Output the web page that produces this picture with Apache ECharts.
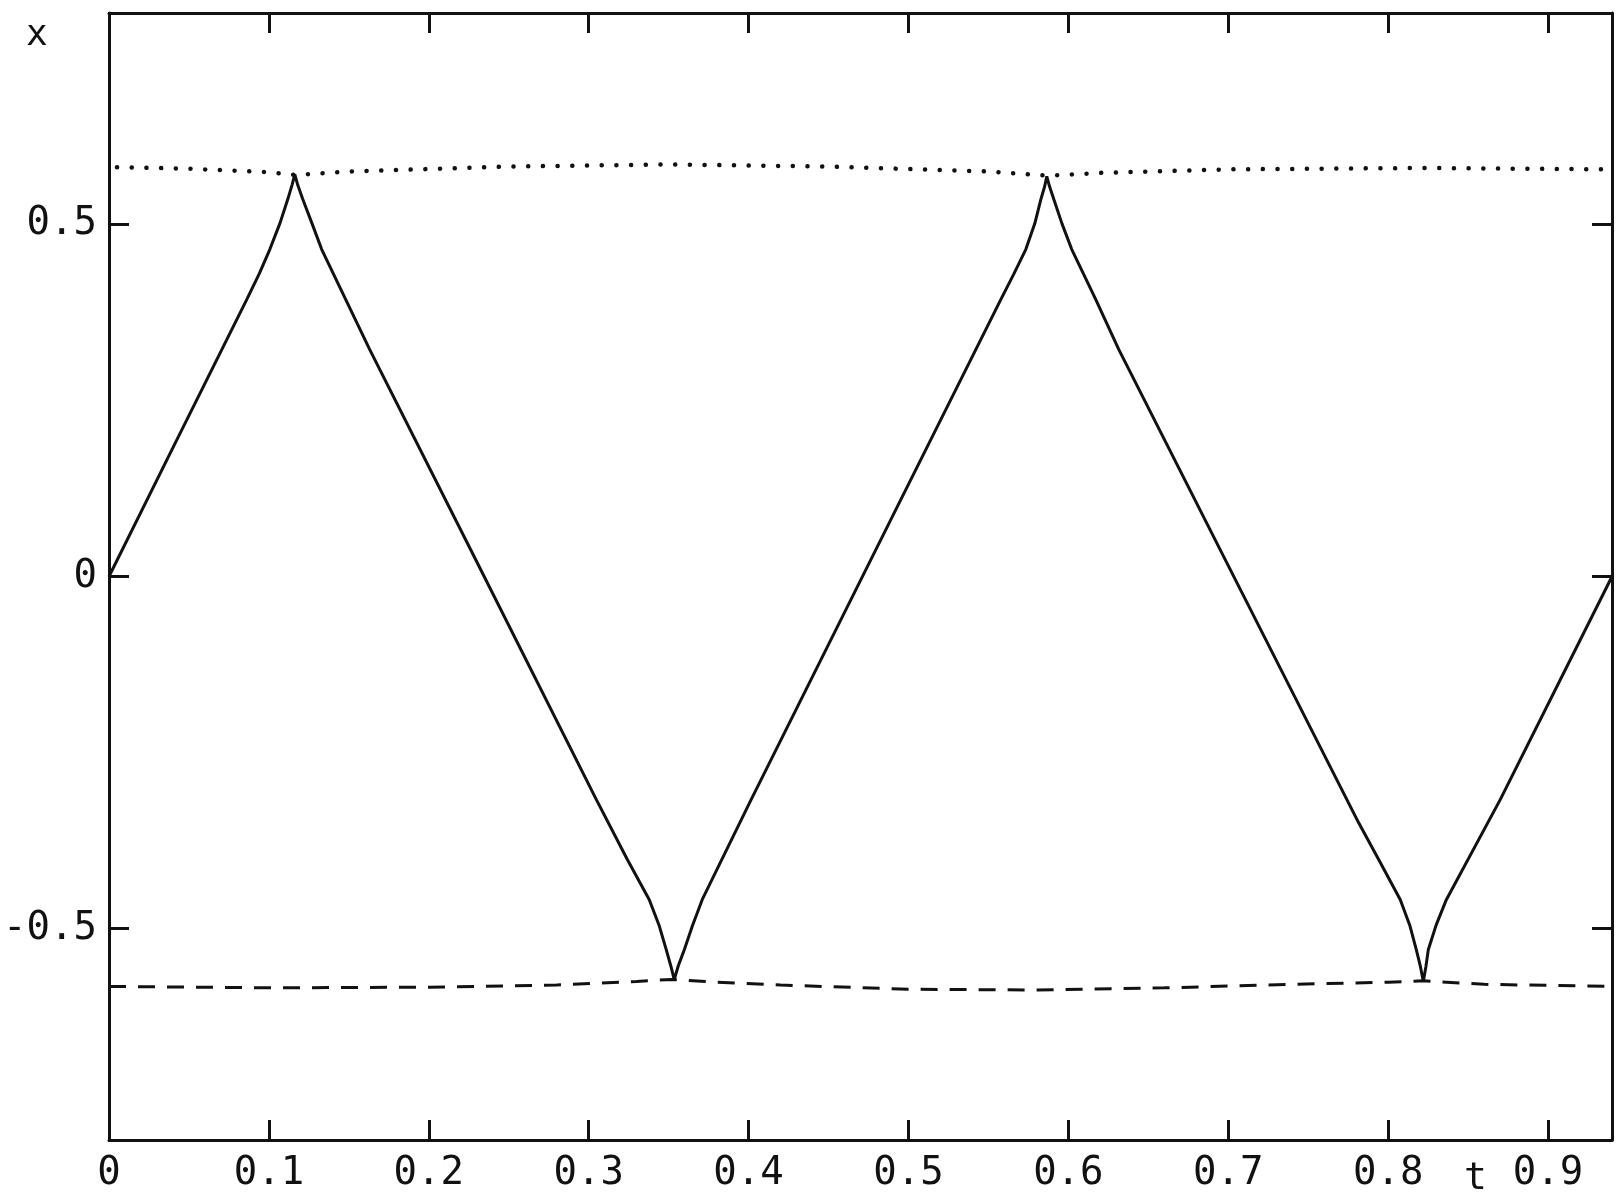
<!DOCTYPE html>
<html>
<head>
<meta charset="utf-8">
<script src="https://cdn.jsdelivr.net/npm/echarts@6/dist/echarts.min.js"></script>
<style>
    html, body { margin: 0; padding: 0; background: #fff; }
    #chart { width: 1617px; height: 1197px; }
</style>
</head>
<body>
<div id="chart"></div>
<script>
// 实线: x(t)
var tSolid = [0, 0.04, 0.0862, 0.0940, 0.1006, 0.1070, 0.1118, 0.1145, 0.1162,
    0.1180, 0.1212, 0.1270, 0.1330, 0.1630, 0.2300,
    0.3048, 0.3240, 0.3379, 0.3440, 0.3485, 0.3515, 0.3535, 0.3560, 0.3598, 0.3650, 0.3710, 0.4016,
    0.4800, 0.5578, 0.5660, 0.5734, 0.5790, 0.5828, 0.5852, 0.5865,
    0.5882, 0.5909, 0.5960, 0.6021, 0.6171, 0.6315, 0.7000,
    0.7814, 0.7960, 0.8076, 0.8135, 0.8176, 0.8202, 0.8220, 0.8236, 0.8251, 0.8300, 0.8364, 0.8701, 0.9400];
var xSolid = [0, 0.183, 0.3935, 0.4300, 0.4645, 0.5020, 0.5355, 0.5560, 0.571,
    0.5560, 0.5355, 0.5010, 0.4645, 0.3224, 0.021,
    -0.3168, -0.4010, -0.4588, -0.4950, -0.5298, -0.5540, -0.5724, -0.5530, -0.5298, -0.4950, -0.4588, -0.3168,
    0.040, 0.3935, 0.4300, 0.4645, 0.5010, 0.5355, 0.5540, 0.568,
    0.5540, 0.5355, 0.5010, 0.4645, 0.3935, 0.3224, 0.0155,
    -0.349, -0.4100, -0.4588, -0.4950, -0.5298, -0.5540, -0.575, -0.5540, -0.5298, -0.4950, -0.4588, -0.3168, 0.0];

// 点线: 上包络
var tUpper = [0.005, 0.05, 0.1, 0.117, 0.15, 0.25, 0.35, 0.45, 0.55, 0.587, 0.62, 0.7, 0.82, 0.94];
var xUpper = [0.581, 0.579, 0.574, 0.570, 0.575, 0.582, 0.585, 0.582, 0.575, 0.569, 0.573, 0.578, 0.580, 0.578];

// 虚线: 下包络
var tLower = [0, 0.1, 0.2, 0.28, 0.33, 0.352, 0.38, 0.42, 0.5, 0.58, 0.66, 0.74, 0.8, 0.822, 0.86, 0.94];
var xLower = [-0.582, -0.584, -0.583, -0.580, -0.575, -0.572, -0.576, -0.580, -0.586, -0.587,
    -0.584, -0.579, -0.576, -0.574, -0.579, -0.582];

// 刻度
var tTicks = [0, 0.1, 0.2, 0.3, 0.4, 0.5, 0.6, 0.7, 0.8, 0.9];
var xTicks = [-0.5, 0, 0.5];

function pairs(a, b) {
    var arr = [];
    for (var i = 0; i < a.length; i++) {
        arr.push([a[i], b[i]]);
    }
    return arr;
}

var ink = '#111';
var labelFont = {
    color: ink,
    fontFamily: 'DejaVu Sans Mono',
    fontSize: 39
};
var frameLine = { show: true, onZero: false, lineStyle: { color: ink, width: 3 } };
var innerTick = function (values) {
    return { show: true, inside: true, length: 20, customValues: values, lineStyle: { color: ink, width: 3 } };
};

var chart = echarts.init(document.getElementById('chart'));
chart.setOption({
    backgroundColor: '#fff',
    animation: false,
    grid: { left: 109, right: 5, top: 13, bottom: 57 },
    xAxis: [
        {
            type: 'value', min: 0, max: 0.94, position: 'bottom',
            axisLine: frameLine,
            axisTick: innerTick(tTicks),
            axisLabel: Object.assign({ customValues: tTicks, margin: 14 }, labelFont),
            splitLine: { show: false }
        },
        {
            type: 'value', min: 0, max: 0.94, position: 'top',
            axisLine: frameLine,
            axisTick: innerTick(tTicks),
            axisLabel: { show: false },
            splitLine: { show: false }
        }
    ],
    yAxis: [
        {
            type: 'value', min: -0.8, max: 0.8, position: 'left',
            axisLine: frameLine,
            axisTick: innerTick(xTicks),
            axisLabel: Object.assign({ customValues: xTicks, margin: 12 }, labelFont),
            splitLine: { show: false }
        },
        {
            type: 'value', min: -0.8, max: 0.8, position: 'right',
            axisLine: frameLine,
            axisTick: innerTick(xTicks),
            axisLabel: { show: false },
            splitLine: { show: false }
        }
    ],
    graphic: [
        { type: 'text', left: 26, top: 18, style: { text: 'x', fill: ink, font: '36px DejaVu Sans Mono' } },
        { type: 'text', left: 1464, top: 1160, style: { text: 't', fill: ink, font: '38px DejaVu Sans Mono' } }
    ],
    series: [
        {
            type: 'line', data: pairs(tSolid, xSolid), showSymbol: false,
            lineStyle: { color: ink, width: 3 }
        },
        {
            type: 'line', data: pairs(tUpper, xUpper), showSymbol: false,
            lineStyle: { color: ink, width: 4.5, type: [0.1, 14.6], cap: 'round' }
        },
        {
            type: 'line', data: pairs(tLower, xLower), showSymbol: false,
            lineStyle: { color: ink, width: 3, type: [17, 12] }
        }
    ]
});
</script>
</body>
</html>
